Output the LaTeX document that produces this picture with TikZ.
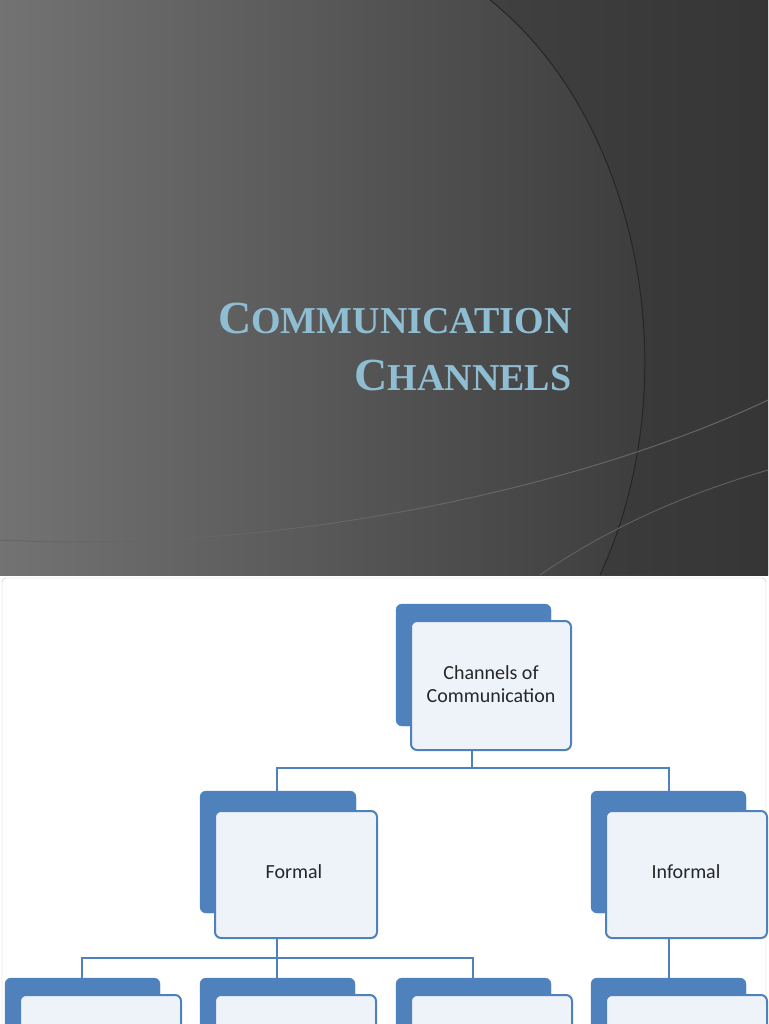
\documentclass[tikz,border=0pt]{standalone}
\usepackage{fontspec}
\setmainfont{Carlito}
\newfontfamily\titlefont{Liberation Serif}
\begin{document}
\begin{tikzpicture}[x=1pt,y=-1pt,
  back/.style={draw=boxblue,fill=boxblue,rounded corners=6pt},
  front/.style={draw=boxblue,line width=2pt,fill=boxfill,rounded corners=6pt},
  lbl/.style={font=\fontsize{20}{23}\selectfont,text=black!85,align=center},
  conn/.style={draw=boxblue,line width=2pt},
  ttl/.style={text=titleblue,font=\titlefont\bfseries}]
\definecolor{boxblue}{HTML}{4F81BD}
\definecolor{boxfill}{HTML}{EEF2F9}
\definecolor{titleblue}{HTML}{8FBED3}
\useasboundingbox (0,0) rectangle (768,1024);
% top slide
\shade[shading angle=135,left color=black!55,right color=black!80] (0,0) rectangle (768,575);
\fill[black!78,opacity=0.5] (490,0) .. controls (640,120) and (690,380) .. (600,575) -- (768,575) -- (768,0) -- cycle;
\draw[black!85,line width=1pt] (490,0) .. controls (640,120) and (690,380) .. (600,575);
\draw[black!60,line width=1pt] (0,540) .. controls (300,555) and (600,480) .. (768,400);
\draw[black!60,line width=0.8pt] (540,575) .. controls (620,520) and (700,490) .. (768,470);
\node[ttl,anchor=base east] (t1) at (575,333) {\fontsize{46}{46}\selectfont C\fontsize{38}{38}\selectfont OMMUNICATION};
\node[ttl,anchor=base east] (t2) at (575,390) {\fontsize{46}{46}\selectfont C\fontsize{38}{38}\selectfont HANNELS};
% bottom slide
\draw[black!25,fill=white,rounded corners=4pt] (2,578) rectangle (766,1030);
% top box
\draw[back] (396,604) rectangle (551,726);
\draw[front] (411,621) rectangle (571,750);
\node[lbl] (top) at (491,684) {Channels of\\Communication};
\coordinate (topb) at (472,750);
% formal
\draw[back] (200,791) rectangle (356,913);
\draw[front] (215,811) rectangle (377,938);
\node[lbl] (formal) at (294,872) {Formal};
% informal
\draw[back] (591,791) rectangle (746,913);
\draw[front] (606,811) rectangle (767,938);
\node[lbl] (informal) at (686,872) {Informal};
% bottom row
\foreach \x in {5,200,396,591}{
  \draw[back] (\x,978) rectangle (\x+155,1040);
  \draw[front] (\x+15,995) rectangle (\x+176,1060);
}
\coordinate (a) at (277,791); \coordinate (b) at (669,791);
\draw[conn] (topb) -- (472,768) -| (a);
\draw[conn] (472,768) -| (b);
\coordinate (fb) at (277,938);
\draw[conn] (fb) -- (277,958) -| (82,978);
\draw[conn] (277,958) -- (277,978);
\draw[conn] (277,958) -| (473,978);
\draw[conn] (669,938) -- (669,978);
\end{tikzpicture}
\end{document}
